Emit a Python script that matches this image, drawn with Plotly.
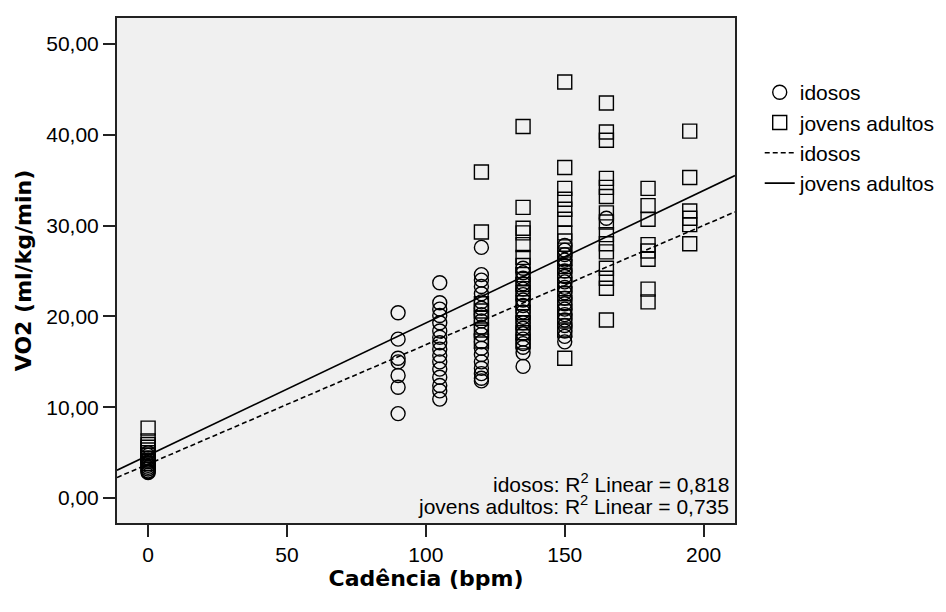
import plotly.graph_objects as go

# ---- data ----
idosos_x = ([0]*12 + [90]*7 + [105]*16 + [120]*19 + [135]*18 + [150]*19 + [165])
idosos_y = ([5.0, 4.7, 4.4, 4.2, 4.0, 3.8, 3.6, 3.4, 3.2, 3.0, 2.9, 2.8] +
            [20.4, 17.5, 15.4, 15.0, 13.5, 12.2, 9.3] +
            [23.7, 21.5, 20.8, 20.1, 19.3, 18.4, 17.7, 17.1, 16.4, 15.7, 15.0, 14.2, 13.3, 12.4, 11.8, 10.9] +
            [27.6, 24.6, 24.0, 23.3, 22.5, 21.6, 20.9, 20.2, 19.5, 18.8, 18.0, 17.2, 16.5, 15.8, 15.0, 14.3, 13.7, 13.2, 12.9] +
            [25.3, 24.8, 24.2, 23.6, 23.0, 22.4, 21.8, 21.2, 20.5, 19.9, 19.3, 18.7, 18.1, 17.5, 17.0, 16.6, 16.0, 14.5] +
            [27.8, 27.3, 26.8, 26.2, 25.6, 25.0, 24.4, 23.8, 23.2, 22.6, 22.0, 21.4, 20.8, 20.2, 19.6, 19.0, 18.4, 17.8, 17.2] +
            [30.8])

jovens_x = ([0]*10 + [120]*7 + [135]*15 + [150]*19 + [165]*15 + [180]*8 + [195]*6)
jovens_y = ([7.7, 6.3, 5.9, 5.6, 5.3, 5.0, 4.7, 4.4, 4.1, 3.8] +
            [35.9, 29.3, 21.4, 20.6, 19.8, 18.5, 17.3] +
            [40.9, 32.0, 29.7, 29.2, 27.9, 26.5, 25.6, 24.6, 23.5, 22.6, 21.5, 20.4, 19.3, 18.2, 17.2] +
            [45.8, 36.4, 34.1, 32.9, 31.8, 30.7, 29.2, 28.3, 27.3, 26.4, 25.5, 24.5, 23.5, 22.5, 21.5, 20.5, 19.5, 18.5, 15.4] +
            [43.5, 40.3, 39.4, 35.2, 34.2, 33.2, 31.4, 30.4, 29.0, 28.0, 27.1, 25.3, 24.2, 23.1, 19.6] +
            [34.1, 32.2, 30.7, 27.9, 27.2, 26.3, 23.0, 21.6] +
            [40.4, 35.3, 31.6, 30.8, 30.1, 28.0])

# fit lines (intercept, slope)
idosos_fit = (3.74, 0.1314)
jovens_fit = (4.70, 0.1458)
r2_idosos = "0,818"
r2_jovens = "0,735"

x_range = [-11.2, 211.3]
y_range = [-2.74, 52.85]
x_ticks = [0, 50, 100, 150, 200]
y_ticks = [0, 10, 20, 30, 40, 50]

FONT = "Liberation Sans, Arial, sans-serif"
TITLE_FONT = "DejaVu Sans, sans-serif"

fig = go.Figure()
fig.add_trace(go.Scatter(
    x=idosos_x, y=idosos_y, mode="markers", name="idosos",
    marker=dict(symbol="circle-open", size=14, color="black", line=dict(width=1.4, color="black"))))
fig.add_trace(go.Scatter(
    x=jovens_x, y=jovens_y, mode="markers", name="jovens adultos",
    marker=dict(symbol="square-open", size=14, color="black", line=dict(width=1.4, color="black"))))
fig.add_trace(go.Scatter(
    x=x_range, y=[idosos_fit[0] + idosos_fit[1]*v for v in x_range], mode="lines", name="idosos",
    line=dict(color="black", width=1.6, dash="5px,3px")))
fig.add_trace(go.Scatter(
    x=x_range, y=[jovens_fit[0] + jovens_fit[1]*v for v in x_range], mode="lines", name="jovens adultos",
    line=dict(color="black", width=1.6)))

fig.add_annotation(x=0.9935, y=0.079, xref="paper", yref="paper", xanchor="right", yanchor="middle",
                   showarrow=False, text=f"idosos: R<sup>2</sup> Linear = {r2_idosos}",
                   font=dict(family=FONT, size=21, color="black"))
fig.add_annotation(x=0.9935, y=0.0355, xref="paper", yref="paper", xanchor="right", yanchor="middle",
                   showarrow=False, text=f"jovens adultos: R<sup>2</sup> Linear = {r2_jovens}",
                   font=dict(family=FONT, size=21, color="black"))

fig.update_layout(
    width=946, height=612,
    margin=dict(l=109, r=219, t=8, b=97),
    paper_bgcolor="white", plot_bgcolor="#f0f0f0",
    separators=",.",
    font=dict(family=FONT, size=21, color="black"),
    showlegend=True,
    legend=dict(x=1.04, y=0.893, xanchor="left", yanchor="top", font=dict(size=21, family=FONT),
                bgcolor="rgba(0,0,0,0)", itemwidth=30, tracegroupgap=0),
    xaxis=dict(range=x_range, tickvals=x_ticks, ticks="outside", ticklen=12, tickwidth=2,
               tickcolor="#222", showline=True, linecolor="#222", linewidth=2, mirror=True,
               showgrid=False, zeroline=False, tickfont=dict(size=21, family=FONT),
               title=dict(text="<b>Cadência (bpm)</b>", font=dict(size=22, family=TITLE_FONT), standoff=4)),
    yaxis=dict(range=y_range, tickvals=y_ticks, tickformat=".2f", ticks="outside", ticklen=12, tickwidth=2,
               tickcolor="#222", showline=True, linecolor="#222", linewidth=2, mirror=True,
               showgrid=False, zeroline=False, tickfont=dict(size=21, family=FONT),
               title=dict(text="<b>VO2 (ml/kg/min)</b>", font=dict(size=22, family=TITLE_FONT), standoff=9)),
)

fig.write_html("out.html")
